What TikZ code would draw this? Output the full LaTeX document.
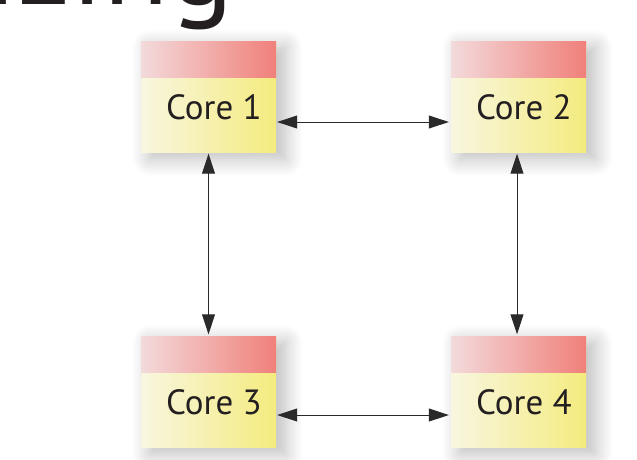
\documentclass[tikz,border=0pt]{standalone}
\usepackage{fontspec}
\setmainfont{PT Sans}
\usetikzlibrary{arrows.meta,shadows.blur}

\definecolor{headleft}{HTML}{F3DADB}
\definecolor{headright}{HTML}{F0807A}
\definecolor{bodyleft}{HTML}{F8F6E0}
\definecolor{bodyright}{HTML}{F4EB7E}
\definecolor{coretext}{HTML}{231F20}
\definecolor{linkgray}{HTML}{2A2A2A}

\tikzset{
    core/.style={rectangle, minimum width=135pt, minimum height=111pt, inner sep=0pt,
        left color=bodyleft, right color=bodyright,
        blur shadow={shadow xshift=9pt, shadow yshift=-6pt, shadow blur radius=18pt, shadow blur steps=12, shadow opacity=28},
        font=\fontsize{35}{35}\selectfont, text=coretext, text height=45pt, text depth=0pt,
        path picture={\shade[left color=headleft, right color=headright]
            (path picture bounding box.north west) rectangle ([yshift=-36pt]path picture bounding box.north east);}},
    link/.style={{Triangle[length=20pt,width=13pt]}-{Triangle[length=20pt,width=13pt]},
        line width=1pt, draw=linkgray, shorten <=1pt, shorten >=2pt},
}

\begin{document}
\begin{tikzpicture}[x=1pt, y=1pt]
    \useasboundingbox (0,0) rectangle (637,459);
    \clip (0,0) rectangle (637,459);
    \node[anchor=base east, inner sep=0pt, text=coretext, font=\fontsize{120}{120}\selectfont] (title) at (234,454) {izing};
    \node[core] (core1) at (208.5,362) {\hspace*{11pt}Core 1};
    \node[core] (core2) at (518.5,362) {\hspace*{11pt}Core 2};
    \node[core] (core3) at (208.5,67) {\hspace*{11pt}Core 3};
    \node[core] (core4) at (518.5,67) {\hspace*{11pt}Core 4};
    \draw[link] ([yshift=-25pt]core1.east) -- ([yshift=-25pt]core2.west);
    \draw[link] ([yshift=-23pt]core3.east) -- ([yshift=-23pt]core4.west);
    \draw[link] (core1.south) -- (core3.north);
    \draw[link] ([xshift=-1.5pt]core2.south) -- ([xshift=-1.5pt]core4.north);
\end{tikzpicture}
\end{document}
